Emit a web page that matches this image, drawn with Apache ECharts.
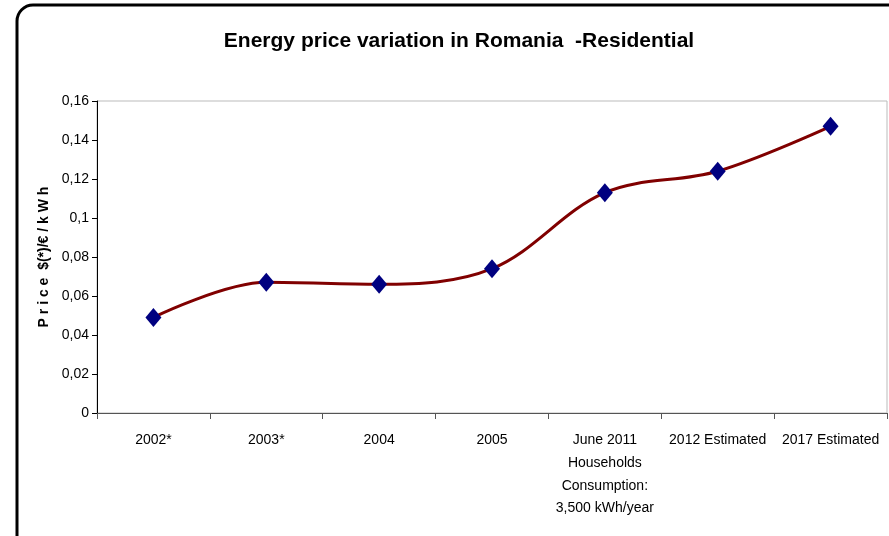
<!DOCTYPE html>
<html><head><meta charset="utf-8">
<script src="https://cdn.jsdelivr.net/npm/echarts@6/dist/echarts.min.js"></script>
<style>html,body{margin:0;padding:0;background:#fff}#c{width:889px;height:536px}</style>
</head><body><div id="c"></div>
<script>
var categories = ["2002*", "2003*", "2004", "2005", "June 2011\nHouseholds\nConsumption:\n3,500 kWh/year", "2012 Estimated", "2017 Estimated"];
var prices = [0.049, 0.067, 0.066, 0.074, 0.113, 0.124, 0.147];
var yTicks = [0, 0.02, 0.04, 0.06, 0.08, 0.1, 0.12, 0.14, 0.16];

var chart = echarts.init(document.getElementById('c'), null, {renderer: 'canvas'});
chart.setOption({
  animation: false,
  backgroundColor: '#fff',
  textStyle: {fontFamily: 'Liberation Sans, Arial, sans-serif'},
  title: {
    text: 'Energy price variation in Romania  -Residential',
    left: 454, top: 26, textAlign: 'center',
    textStyle: {fontSize: 21, fontWeight: 'bold', color: '#000', fontFamily: 'Liberation Sans, Arial, sans-serif'}
  },
  graphic: [{
    type: 'rect', z: 100,
    shape: {x: 17, y: 5, width: 900, height: 560, r: 16},
    style: {fill: 'none', stroke: '#000', lineWidth: 3}
  }],
  grid: {left: 97, right: 2, top: 101, bottom: 123, show: true, borderColor: '#bbb', borderWidth: 1},
  xAxis: {
    type: 'category', data: categories, boundaryGap: true,
    axisLine: {lineStyle: {color: '#555', width: 1}},
    axisTick: {show: true, length: 6, lineStyle: {color: '#555'}},
    axisLabel: {color: '#000', fontSize: 14, margin: 16, lineHeight: 22.7, interval: 0, fontFamily: 'Liberation Sans, Arial, sans-serif'},
    splitLine: {show: false}
  },
  yAxis: {
    type: 'value', min: 0, max: 0.16, interval: 0.02,
    name: 'P r i c e  $(*)/€ / k W h', nameLocation: 'middle', nameGap: 42, nameRotate: 90,
    nameTextStyle: {fontSize: 14, fontWeight: 'bold', color: '#000', fontFamily: 'Liberation Sans, Arial, sans-serif'},
    axisLine: {show: true, lineStyle: {color: '#000', width: 1}},
    axisTick: {show: true, length: 5, lineStyle: {color: '#000'}},
    axisLabel: {color: '#000', fontSize: 14, margin: 8,
      formatter: function (v) {
        var t = yTicks.filter(function (k) { return Math.abs(k - v) < 1e-9; })[0];
        return String(t === undefined ? v : t).replace('.', ',');
      }},
    splitLine: {show: false}
  },
  series: [{
    type: 'line', data: prices, smooth: 0.35,
    lineStyle: {color: '#800000', width: 3},
    symbol: 'diamond', symbolSize: [16, 19],
    itemStyle: {color: '#000080'}
  }]
});
</script></body></html>
